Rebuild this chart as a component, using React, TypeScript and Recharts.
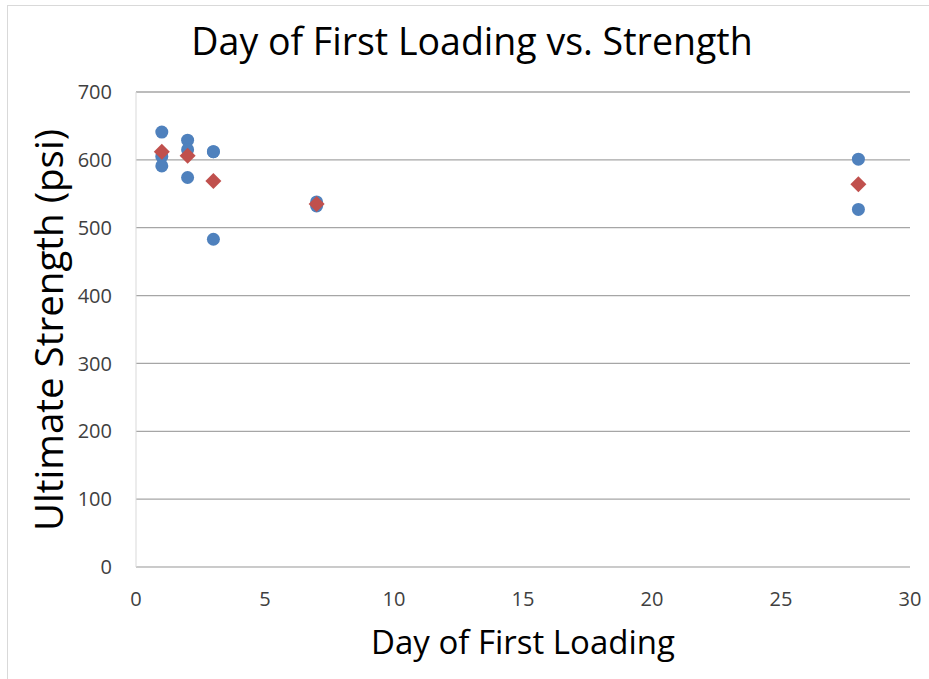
import React from 'react';
import { ScatterChart, Scatter, XAxis, YAxis, CartesianGrid } from 'recharts';

const individualDays = [1, 1, 1, 2, 2, 2, 3, 3, 3, 7, 7, 28, 28];
const individualStrength = [641, 605, 591, 629, 615, 574, 612, 612, 483, 532, 538, 601, 527];
const averageDays = [1, 2, 3, 7, 28];
const averageStrength = [612, 606, 569, 535, 564];
const xTicks = [0, 5, 10, 15, 20, 25, 30];
const yTicks = [0, 100, 200, 300, 400, 500, 600, 700];

const individual = individualDays.map((d, i) => ({ x: d, y: individualStrength[i] }));
const average = averageDays.map((d, i) => ({ x: d, y: averageStrength[i] }));

const FONT = "'Open Sans', 'Noto Sans', sans-serif";

const Diamond = (props: any) => {
  const { cx, cy } = props;
  const r = 8;
  return <path d={`M${cx},${cy - r}L${cx + r},${cy}L${cx},${cy + r}L${cx - r},${cy}Z`} fill="#c0504d" />;
};

const Dot = (props: any) => {
  const { cx, cy } = props;
  return <circle cx={cx} cy={cy} r={6.5} fill="#4f81bd" />;
};

export default function App() {
  return (
    <div style={{ position: 'absolute', left: 0, top: 0, width: 929, height: 679, background: '#fff', fontFamily: FONT }}>
      <div style={{ position: 'absolute', left: 7, top: 5, width: 922, height: 674, borderLeft: '1px solid #d9d9d9', borderTop: '1px solid #d9d9d9' }} />
      <ScatterChart width={929} height={679} margin={{ top: 92, right: 19, bottom: 0, left: 0 }} style={{ position: 'absolute', left: 0, top: 0 }}>
        <CartesianGrid horizontal={true} vertical={false} stroke="#a6a6a6" strokeWidth={1.3} />
        <XAxis
          type="number"
          dataKey="x"
          domain={[0, 30]}
          ticks={xTicks}
          tickLine={false}
          axisLine={{ stroke: '#d9d9d9' }}
          tick={{ fill: '#404040', fontSize: 20, fontFamily: FONT }}
          tickMargin={19}
          height={112}
        />
        <YAxis
          type="number"
          dataKey="y"
          domain={[0, 700]}
          ticks={yTicks}
          tickLine={false}
          axisLine={{ stroke: '#d9d9d9' }}
          tick={{ fill: '#404040', fontSize: 20, fontFamily: FONT }}
          tickMargin={18}
          width={136}
        />
        <Scatter name="Individual" data={individual} shape={<Dot />} isAnimationActive={false} />
        <Scatter name="Average" data={average} shape={<Diamond />} isAnimationActive={false} />
      </ScatterChart>
      <svg width={929} height={679} style={{ position: 'absolute', left: 0, top: 0, pointerEvents: 'none' }}>
        <text x={472} y={55} textAnchor="middle" fontFamily={FONT} fontSize={37.5} fill="#000">Day of First Loading vs. Strength</text>
        <text x={523} y={654} textAnchor="middle" fontFamily={FONT} fontSize={33} fill="#000">Day of First Loading</text>
        <text x={0} y={0} transform="translate(63,330) rotate(-90)" textAnchor="middle" fontFamily={FONT} fontSize={38.5} fill="#000">Ultimate Strength (psi)</text>
      </svg>
    </div>
  );
}
